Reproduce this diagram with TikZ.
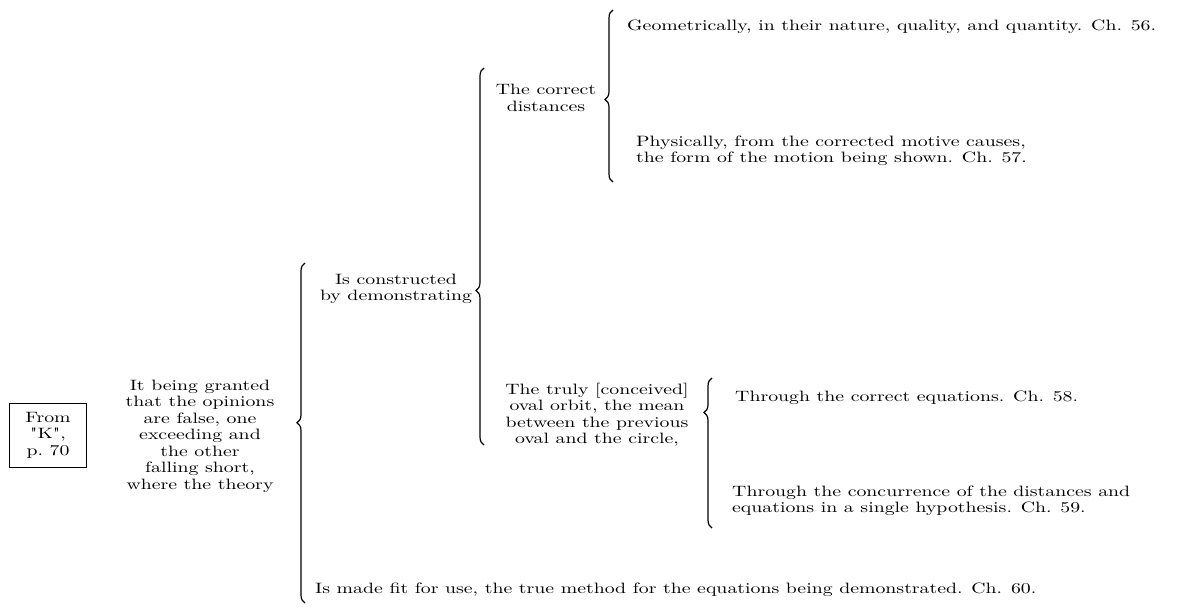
\documentclass[tikz,border=0pt]{standalone}
\usepackage{fontspec}
\usetikzlibrary{decorations.pathreplacing}
\newfontfamily\chartfont{lmroman10-regular.otf}[FakeStretch=1.32]

\tikzset{
  txt/.style={font=\chartfont\fontsize{15}{16.5}\selectfont, inner sep=0pt, align=center},
  txtl/.style={txt, align=left, anchor=west},
  brc/.style={decorate, decoration={brace, amplitude=8pt, aspect=#1}, line width=1.2pt},
}

\begin{document}
\begin{tikzpicture}[x=1pt,y=-1pt]
  \useasboundingbox (0,0) rectangle (1184,608);
  \node[txt,draw,line width=0.8pt,inner xsep=16pt,inner ysep=9pt] (from) at (48,435) {From\\"K",\\p.~70};
  \node[txt] (granted) at (200,436) {It being granted\\that the opinions\\are false, one\\exceeding and\\the other\\falling short,\\where the theory};
  \node[txt] (constructed) at (396,289) {Is constructed\\by demonstrating};
  \node[txt] (distances) at (546,98) {The correct\\distances};
  \node[txtl] (geom) at (627,27) {Geometrically, in their nature, quality, and quantity. Ch. 56.};
  \node[txtl] (phys) at (636,151) {Physically, from the corrected motive causes,\\the form of the motion being shown. Ch. 57.};
  \node[txt] (orbit) at (597,415) {The truly [conceived]\\oval orbit, the mean\\between the previous\\oval and the circle,};
  \node[txtl] (eqs) at (735,398) {Through the correct equations. Ch. 58.};
  \node[txtl] (conc) at (732,501) {Through the concurrence of the distances and\\equations in a single hypothesis. Ch. 59.};
  \node[txtl] (fit) at (315,590) {Is made fit for use, the true method for the equations being demonstrated. Ch. 60.};

  % ends of the braces
  \coordinate (b1top) at (305,263);
  \coordinate (b1bot) at (305,603);
  \coordinate (b2top) at (484,68);
  \coordinate (b2bot) at (484,445);
  \coordinate (b3top) at (613,10);
  \coordinate (b3bot) at (613,182);
  \coordinate (b4top) at (712,378);
  \coordinate (b4bot) at (712,528);
  \draw[brc=0.53] (b1bot) -- (b1top);
  \draw[brc=0.41] (b2bot) -- (b2top);
  \draw[brc=0.48] (b3bot) -- (b3top);
  \draw[brc=0.77] (b4bot) -- (b4top);
\end{tikzpicture}
\end{document}
